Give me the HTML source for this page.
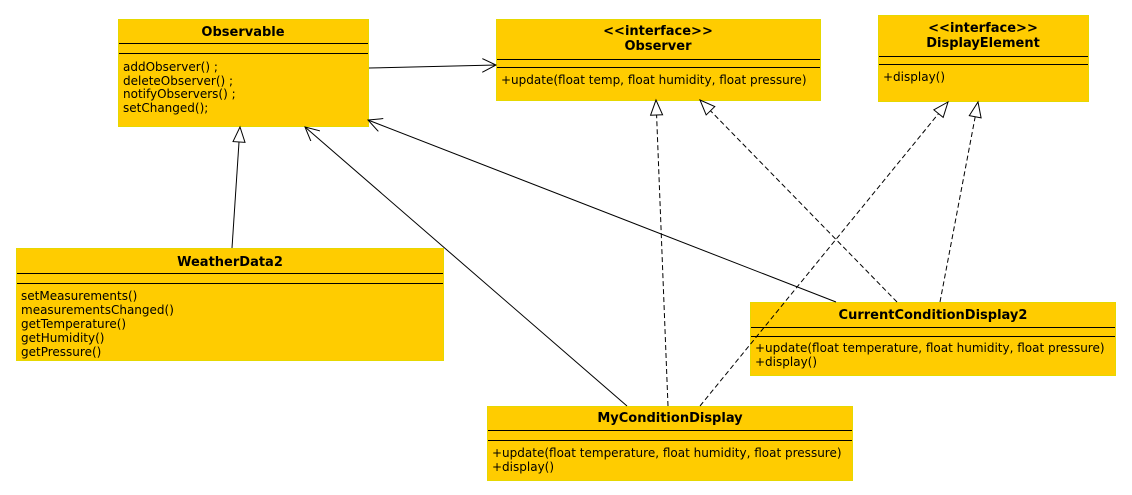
<!DOCTYPE html>
<html><head><meta charset="utf-8"><style>
html,body{margin:0;padding:0;background:#fff;width:1132px;height:495px;overflow:hidden}
svg text{font-family:"DejaVu Sans","Liberation Sans",sans-serif;font-size:12px;fill:#000}
.b{font-weight:bold;font-size:13px}
</style></head><body>
<svg width="1132" height="495" xmlns="http://www.w3.org/2000/svg">
<defs>
<marker id="open" markerWidth="16" markerHeight="14" refX="14" refY="7" orient="auto" markerUnits="userSpaceOnUse"><path d="M0,0 L14,7 L0,14" fill="none" stroke="#000" stroke-width="1"/></marker>
<marker id="tri" markerWidth="18" markerHeight="14" refX="16" refY="7" orient="auto" markerUnits="userSpaceOnUse"><path d="M1,1 L16,7 L1,13 Z" fill="#fff" stroke="#000" stroke-width="1"/></marker>
</defs>
<g fill="#ffcc00" stroke="#e6d800" stroke-width="1">
<rect x="118.5" y="19.5" width="250" height="107"/>
<rect x="496.5" y="19.5" width="324" height="81"/>
<rect x="878.5" y="15.5" width="210" height="86"/>
<rect x="16.5" y="248.5" width="427" height="112"/>
<rect x="750.5" y="302.5" width="365" height="73"/>
<rect x="487.5" y="406.5" width="365" height="74"/>
</g>
<g stroke="#000" stroke-width="1">
<line x1="119" y1="43.5" x2="368" y2="43.5"/><line x1="119" y1="53.5" x2="368" y2="53.5"/>
<line x1="497" y1="59.5" x2="820" y2="59.5"/><line x1="497" y1="67.5" x2="820" y2="67.5"/>
<line x1="879" y1="56.5" x2="1088" y2="56.5"/><line x1="879" y1="64.5" x2="1088" y2="64.5"/>
<line x1="17" y1="273.5" x2="443" y2="273.5"/><line x1="17" y1="283.5" x2="443" y2="283.5"/>
<line x1="751" y1="327.5" x2="1115" y2="327.5"/><line x1="751" y1="336.5" x2="1115" y2="336.5"/>
<line x1="488" y1="430.5" x2="852" y2="430.5"/><line x1="488" y1="440.5" x2="852" y2="440.5"/>
</g>
<text class="b" x="243" y="36" text-anchor="middle">Observable</text>
<text x="123" y="71">addObserver() ;</text>
<text x="123" y="85">deleteObserver() ;</text>
<text x="123" y="98">notifyObservers() ;</text>
<text x="123" y="112">setChanged();</text>
<text class="b" x="658" y="35" text-anchor="middle">&lt;&lt;interface&gt;&gt;</text>
<text class="b" x="658" y="50" text-anchor="middle">Observer</text>
<text x="501" y="84">+update(float temp, float humidity, float pressure)</text>
<text class="b" x="983" y="32" text-anchor="middle">&lt;&lt;interface&gt;&gt;</text>
<text class="b" x="983" y="47" text-anchor="middle">DisplayElement</text>
<text x="883" y="81">+display()</text>
<text class="b" x="230" y="266" text-anchor="middle">WeatherData2</text>
<text x="21" y="300">setMeasurements()</text>
<text x="21" y="314">measurementsChanged()</text>
<text x="21" y="328">getTemperature()</text>
<text x="21" y="342">getHumidity()</text>
<text x="21" y="356">getPressure()</text>
<text class="b" x="933" y="319" text-anchor="middle">CurrentConditionDisplay2</text>
<text x="755" y="352">+update(float temperature, float humidity, float pressure)</text>
<text x="755" y="366">+display()</text>
<text class="b" x="670" y="422" text-anchor="middle">MyConditionDisplay</text>
<text x="492" y="457">+update(float temperature, float humidity, float pressure)</text>
<text x="492" y="471">+display()</text>
<g fill="none" stroke="#000" stroke-width="1">
<line x1="369" y1="68" x2="496" y2="65" marker-end="url(#open)"/>
<line x1="232" y1="248" x2="240" y2="127" marker-end="url(#tri)"/>
<line x1="627" y1="406" x2="305" y2="127" marker-end="url(#open)"/>
<line x1="836" y1="302" x2="368" y2="120" marker-end="url(#open)"/>
<g stroke-dasharray="5,3">
<line x1="668" y1="406" x2="656" y2="100" marker-end="url(#tri)"/>
<line x1="700" y1="406" x2="948" y2="102" marker-end="url(#tri)"/>
<line x1="897" y1="302" x2="700" y2="100" marker-end="url(#tri)"/>
<line x1="940" y1="302" x2="978" y2="102" marker-end="url(#tri)"/>
</g>
</g>
</svg>
</body></html>
